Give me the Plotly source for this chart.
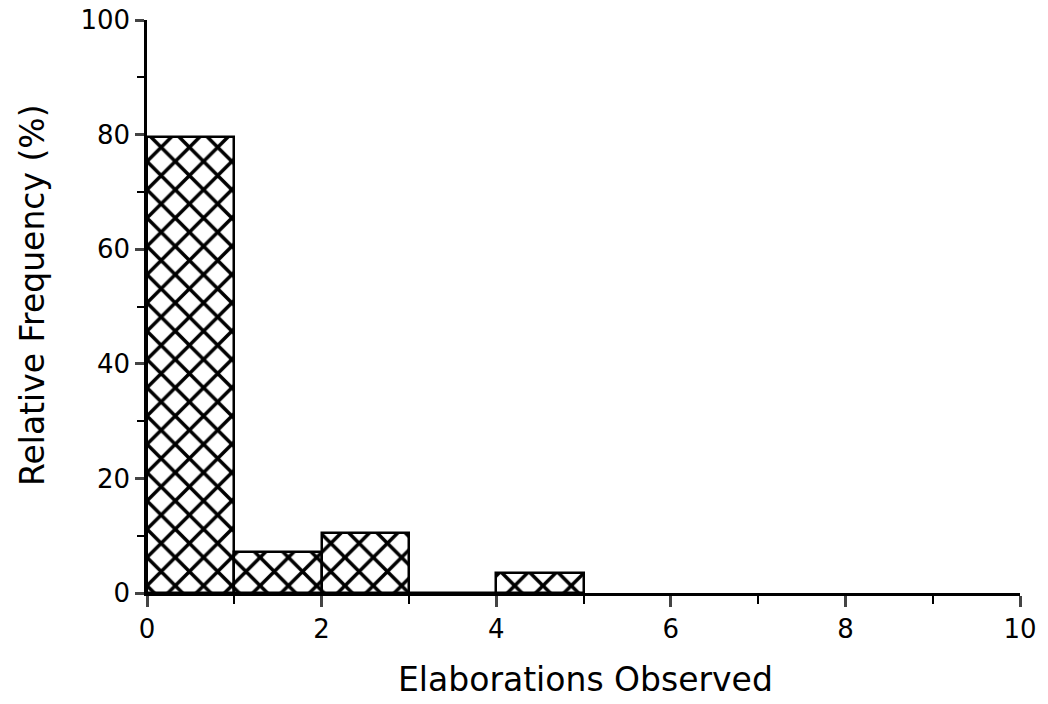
import plotly.graph_objects as go

bin_left = [0, 1, 2, 3, 4]
frequency = [79.5, 7.2, 10.5, 0, 3.5]
x_ticks = [0, 2, 4, 6, 8, 10]
y_ticks = [0, 20, 40, 60, 80, 100]
x_title = "Elaborations Observed"
y_title = "Relative Frequency (%)"

FONT = "DejaVu Sans"

fig = go.Figure()
fig.add_trace(go.Bar(
    x=[b + 0.5 for b in bin_left],
    y=frequency,
    width=1,
    marker=dict(
        color="white",
        line=dict(color="black", width=2.5),
        pattern=dict(shape="x", size=20, solidity=0.32, fgcolor="black", bgcolor="white", fgopacity=1),
    ),
    showlegend=False,
))

fig.update_layout(
    width=1048, height=704,
    margin=dict(l=147, r=28, t=20, b=111),
    paper_bgcolor="white", plot_bgcolor="white",
    font=dict(family=FONT, color="black", size=26),
    bargap=0,
)
fig.update_xaxes(
    range=[0, 10], tickvals=x_ticks, ticks="outside", ticklen=11, tickwidth=2.5,
    showline=True, linecolor="black", linewidth=2.5, showgrid=False, zeroline=False,
    minor=dict(tickvals=[1, 3, 5, 7, 9], ticks="outside", ticklen=8, tickwidth=2, tickcolor="black"),
    tickfont=dict(size=26), automargin=False,
)
fig.update_yaxes(
    range=[0, 100], tickvals=y_ticks, ticks="outside", ticklen=9, tickwidth=2.5,
    showline=True, linecolor="black", linewidth=2.5, showgrid=False, zeroline=False,
    minor=dict(tickvals=[10, 30, 50, 70, 90], ticks="outside", ticklen=7, tickwidth=2, tickcolor="black"),
    tickfont=dict(size=26), automargin=False,
)

fig.add_annotation(text=x_title, xref="paper", yref="paper", x=0.502, y=0,
                   xanchor="center", yanchor="middle", yshift=-86, showarrow=False,
                   font=dict(size=33, family=FONT, color="black"))
fig.add_annotation(text=y_title, xref="paper", yref="paper", x=0, y=0.52,
                   xanchor="center", yanchor="middle", xshift=-115, textangle=-90,
                   showarrow=False, font=dict(size=33, family=FONT, color="black"))

fig.write_html(
    "out.html",
    config={"displayModeBar": False},
    post_script="document.body.style.margin='0';document.body.style.overflow='hidden';",
)
